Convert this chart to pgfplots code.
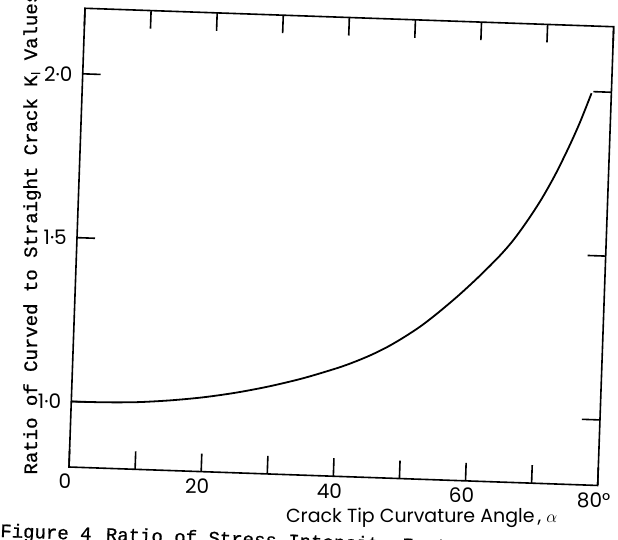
\documentclass[border=0pt]{standalone}
\usepackage{pgfplots}
\pgfplotsset{compat=1.18}
\usepackage{fontspec}
\setmainfont{Poppins}
\newfontfamily\monofont[FakeBold=0.8]{Liberation Mono}
\begin{document}
\begin{tikzpicture}
\begin{axis}[
  at={(69pt,-467pt)}, anchor=south west,
  rotate around={-2:(current axis.south west)},
  scale only axis, width=529pt, height=459pt,
  xmin=0, xmax=80, ymin=0.8, ymax=2.2,
  axis line style={line width=1.6pt},
  xtick={0,10,...,80},
  xticklabels={0,,20,,40,,60,,80°},
  ytick={1,1.5,2},
  yticklabels={1·0,1·5,2·0},
  tick align=inside,
  major tick length=18pt,
  tick style={line width=1.6pt, black},
  ticklabel style={font=\fontsize{20}{22}\selectfont},
  xticklabel style={inner sep=2pt, yshift=-5pt, xshift=-4pt},
  yticklabel style={inner sep=2pt, xshift=-8pt},
  xlabel={Crack Tip Curvature Angle\kern3pt, $\alpha$},
  xlabel style={font=\fontsize{19}{22}\selectfont, at={(axis description cs:0.670,-0.095)}, anchor=base},
  ylabel={Ratio of Curved to Straight Crack K$_{\mathrm{I}}$ Values},
  ylabel style={font=\monofont\fontsize{19}{22}\selectfont, at={(axis description cs:-0.0597,-0.0264)}, anchor=base west},
  title={Stress Intensity Ratio},
  title style={font=\monofont\fontsize{19}{22}\selectfont, at={(axis description cs:0.135,1.028)}, anchor=base west},
  clip=false,
]
\addplot[line width=1.8pt, smooth, black] coordinates {
(0,1.000) (5,1.001) (10,1.005) (15,1.014) (20,1.027) (25,1.045) (30,1.068)
(35,1.096) (40,1.130) (42.5,1.150) (45,1.173) (47.5,1.200) (50,1.232) (52.5,1.268)
(55,1.310) (58,1.365) (61,1.425) (64,1.490) (66,1.540) (68,1.600) (70,1.667)
(72,1.745) (74,1.835) (75.5,1.910) (77,1.995)
};
\end{axis}
\node[anchor=base west, inner sep=0pt, rotate=-2, font=\monofont\fontsize{19}{22}\selectfont] at (0pt,-537pt) {Figure 4\kern3pt\ Ratio of Stress Intensity Factor K$_{\mathrm{I}}$ for Curved and Straight Cracks};
\pgfresetboundingbox
\useasboundingbox (0pt,0pt) rectangle (618pt,-540pt);
\end{tikzpicture}
\end{document}
